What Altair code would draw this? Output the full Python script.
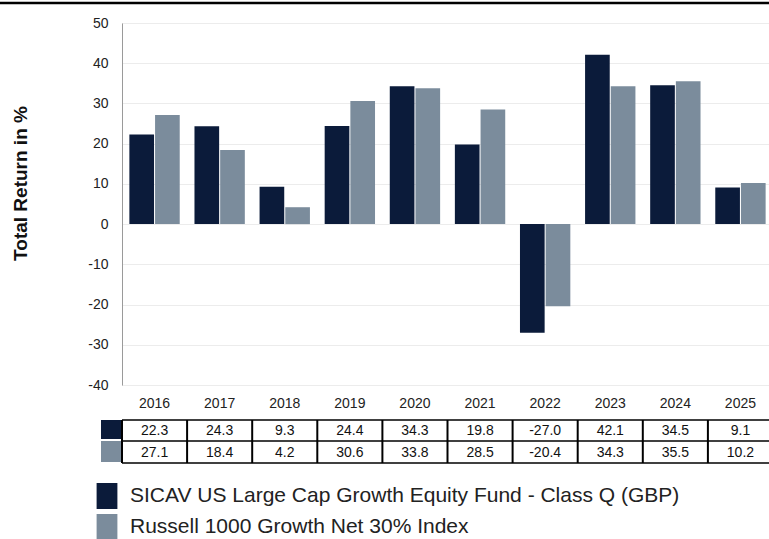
import altair as alt
import pandas as pd

years = ["2016", "2017", "2018", "2019", "2020", "2021", "2022", "2023", "2024", "2025"]
fund = [22.3, 24.3, 9.3, 24.4, 34.3, 19.8, -27.0, 42.1, 34.5, 9.1]
index = [27.1, 18.4, 4.2, 30.6, 33.8, 28.5, -20.4, 34.3, 35.5, 10.2]
series = ["SICAV US Large Cap Growth Equity Fund - Class Q (GBP)",
          "Russell 1000 Growth Net 30% Index"]
colors = ["#0b1b3a", "#7b8c9c"]
y_ticks = [-40, -30, -20, -10, 0, 10, 20, 30, 40, 50]

FONT = "Liberation Sans"
MINUS_FIX = "replace(datum.label, '\u2212', '-')"

long_df = pd.DataFrame(
    [{"year": y, "series": series[0], "value": v} for y, v in zip(years, fund)]
    + [{"year": y, "series": series[1], "value": v} for y, v in zip(years, index)]
)
wide_df = pd.DataFrame({"year": years, "fund": fund, "index": index})
one = pd.DataFrame({"k": [0]})

x_scale = alt.Scale(domain=years, range=[0, 651], paddingInner=0, paddingOuter=0)

bars = alt.Chart(long_df).mark_bar().encode(
    x=alt.X("year:N", scale=x_scale,
            axis=alt.Axis(title=None, domain=False, ticks=False, grid=False,
                          labelAngle=0, labelFontSize=14, labelFont=FONT,
                          labelColor="#222222", labelPadding=11)),
    xOffset=alt.XOffset("series:N", sort=series,
                        scale=alt.Scale(domain=series, paddingInner=0.04, paddingOuter=0.287)),
    y=alt.Y("value:Q",
            scale=alt.Scale(domain=[-40, 50], nice=False),
            axis=alt.Axis(values=y_ticks, title="Total Return in %", ticks=False,
                          domainColor="#9a9a9a", gridColor="#ececec",
                          labelFontSize=14, labelFont=FONT, labelColor="#222222",
                          labelPadding=14, labelExpr=MINUS_FIX,
                          titleFont=FONT, titleFontSize=19, titleFontWeight="bold",
                          titleColor="#111111", titleAngle=-90, titleX=-102, titleY=160,
                          titleBaseline="middle", titleAlign="center")),
    color=alt.Color("series:N", sort=series,
                    scale=alt.Scale(domain=series, range=colors),
                    legend=alt.Legend(title=None, orient="none", legendX=-28, legendY=460,
                                      direction="vertical",
                                      symbolType="M-0.8,-1H0.8V1H-0.8Z",
                                      symbolSize=676, symbolStrokeWidth=0,
                                      labelFont=FONT, labelFontSize=21, labelColor="#222222",
                                      labelLimit=800, labelOffset=10, rowPadding=5,
                                      padding=0)),
)

top_line = alt.Chart(one).mark_rule(color="#000000", strokeWidth=2.5).encode(
    x=alt.value(-122), x2=alt.value(647), y=alt.value(-20)
)

hlines = alt.Chart(pd.DataFrame({"yy": [397, 418, 440]})).mark_rule(
    color="#000000", strokeWidth=1.5).encode(
    x=alt.value(0), x2=alt.value(651), y=alt.Y("yy:Q", scale=None)
)

vlines = alt.Chart(wide_df).mark_rule(color="#000000", strokeWidth=2).encode(
    x=alt.X("year:N", scale=x_scale, bandPosition=0),
    y=alt.value(397), y2=alt.value(440)
)

sw1 = alt.Chart(one).mark_rect(color=colors[0]).encode(
    x=alt.value(-21), x2=alt.value(-1), y=alt.value(397), y2=alt.value(416))
sw2 = alt.Chart(one).mark_rect(color=colors[1]).encode(
    x=alt.value(-21), x2=alt.value(-1), y=alt.value(418), y2=alt.value(439))

t1 = alt.Chart(wide_df).transform_calculate(
    lbl="replace(format(datum.fund, '.1f'), '\u2212', '-')"
).mark_text(font=FONT, fontSize=14, color="#111111", baseline="middle").encode(
    x=alt.X("year:N", scale=x_scale), y=alt.value(408), text="lbl:N")
t2 = alt.Chart(wide_df).transform_calculate(
    lbl="replace(format(datum.index, '.1f'), '\u2212', '-')"
).mark_text(font=FONT, fontSize=14, color="#111111", baseline="middle").encode(
    x=alt.X("year:N", scale=x_scale), y=alt.value(429.5), text="lbl:N")

chart = alt.layer(bars, top_line, hlines, vlines, sw1, sw2, t1, t2).properties(
    width=647, height=362,
    autosize=alt.AutoSizeParams(type="none"),
    padding={"left": 122, "top": 23, "right": 0, "bottom": 154},
).configure_view(stroke=None).configure(background="white")

chart.save("out.html", embed_options={"renderer": "svg", "actions": False})
